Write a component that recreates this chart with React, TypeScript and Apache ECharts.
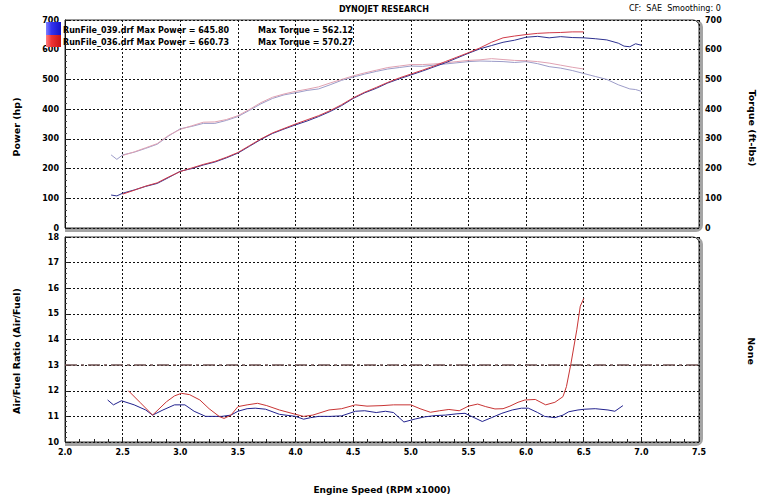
import React, { useEffect, useRef } from "react";
import * as echarts from "echarts";

// ---- data ----
const runFiles = ["RunFile_039.drf", "RunFile_036.drf"];
const maxPower = [645.8, 660.73];
const maxTorque = [562.12, 570.27];

const rpm039 = [2.4, 2.45, 2.5, 2.6, 2.7, 2.8, 2.9, 3.0, 3.1, 3.2, 3.3, 3.4, 3.5, 3.6, 3.7, 3.8, 3.9, 4.0, 4.1, 4.2, 4.3, 4.4, 4.5, 4.6, 4.7, 4.8, 4.9, 5.0, 5.1, 5.2, 5.3, 5.4, 5.5, 5.6, 5.7, 5.8, 5.9, 6.0, 6.1, 6.2, 6.3, 6.4, 6.5, 6.6, 6.7, 6.8, 6.85, 6.9, 6.95, 7.0];
const power039 = [111, 108, 117, 128, 140, 150, 170, 191, 200, 212, 222, 236, 252, 275, 298, 318, 333, 347, 360, 375, 392, 412, 436, 455, 470, 488, 502, 515, 528, 542, 556, 572, 588, 603, 614, 625, 632, 642, 645, 640, 644, 641, 640, 637, 633, 622, 612, 610, 620, 615];
const torque039 = [246, 231, 246, 255, 268, 282, 310, 334, 342, 352, 352, 362, 375, 396, 418, 436, 448, 455, 463, 468, 482, 497, 508, 518, 527, 535, 540, 545, 544, 548, 552, 556, 560, 562, 561, 560, 557, 560, 553, 543, 538, 530, 520, 510, 500, 482, 475, 468, 466, 460];

const rpm036 = [2.5, 2.6, 2.7, 2.8, 2.9, 3.0, 3.1, 3.2, 3.3, 3.4, 3.5, 3.6, 3.7, 3.8, 3.9, 4.0, 4.1, 4.2, 4.3, 4.4, 4.5, 4.6, 4.7, 4.8, 4.9, 5.0, 5.1, 5.2, 5.3, 5.4, 5.5, 5.6, 5.7, 5.8, 5.9, 6.0, 6.1, 6.2, 6.3, 6.4, 6.5];
const power036 = [114, 127, 141, 152, 172, 190, 202, 214, 224, 238, 254, 277, 300, 320, 335, 350, 364, 378, 395, 415, 438, 457, 473, 490, 505, 518, 531, 545, 560, 575, 590, 606, 625, 640, 646, 651, 655, 657, 658, 660, 660];
const torque036 = [244, 256, 270, 284, 312, 332, 344, 356, 357, 365, 378, 399, 422, 440, 451, 460, 467, 475, 488, 500, 512, 522, 531, 540, 545, 550, 550, 552, 556, 560, 564, 566, 570, 567, 564, 563, 560, 555, 548, 541, 535];

const afrRpm039 = [2.37, 2.42, 2.49, 2.6, 2.7, 2.76, 2.85, 2.95, 3.04, 3.12, 3.22, 3.36, 3.44, 3.5, 3.58, 3.65, 3.74, 3.86, 4.0, 4.07, 4.13, 4.2, 4.3, 4.4, 4.52, 4.6, 4.7, 4.78, 4.85, 4.94, 5.04, 5.12, 5.21, 5.3, 5.4, 5.47, 5.55, 5.62, 5.7, 5.79, 5.88, 5.96, 6.02, 6.1, 6.16, 6.25, 6.32, 6.37, 6.45, 6.51, 6.6, 6.71, 6.77, 6.84];
const afr039 = [11.64, 11.45, 11.61, 11.45, 11.25, 11.05, 11.25, 11.45, 11.45, 11.2, 11.0, 11.0, 11.05, 11.2, 11.3, 11.32, 11.28, 11.08, 11.0, 10.89, 10.95, 11.0, 11.0, 11.02, 11.2, 11.22, 11.15, 11.2, 11.15, 10.78, 10.9, 10.98, 11.03, 11.05, 11.1, 11.12, 10.95, 10.8, 10.95, 11.12, 11.25, 11.32, 11.32, 11.15, 11.0, 10.95, 11.05, 11.18, 11.25, 11.28, 11.3, 11.25, 11.2, 11.42];

const afrRpm036 = [2.55, 2.65, 2.76, 2.88, 2.95, 3.01, 3.08, 3.17, 3.25, 3.34, 3.38, 3.44, 3.5, 3.58, 3.67, 3.75, 3.86, 4.0, 4.07, 4.15, 4.29, 4.4, 4.52, 4.62, 4.75, 4.85, 5.0, 5.08, 5.17, 5.25, 5.33, 5.42, 5.5, 5.58, 5.65, 5.73, 5.8, 5.86, 5.93, 5.99, 6.08, 6.17, 6.25, 6.32, 6.35, 6.39, 6.44, 6.47, 6.5];
const afr036 = [12.0, 11.55, 11.05, 11.57, 11.8, 11.9, 11.85, 11.64, 11.3, 10.99, 10.92, 11.05, 11.38, 11.45, 11.51, 11.42, 11.25, 11.08, 11.0, 11.05, 11.25, 11.3, 11.45, 11.4, 11.42, 11.45, 11.45, 11.3, 11.16, 11.22, 11.27, 11.22, 11.4, 11.48, 11.38, 11.29, 11.3, 11.4, 11.55, 11.64, 11.66, 11.45, 11.55, 11.77, 12.16, 13.08, 14.38, 15.3, 15.6];

const afrTarget = 13;

// ---- styling ----
const FONT = '"DejaVu Sans", Verdana, sans-serif';
const dotted = { color: "#111", width: 1, type: [2, 2] as number[] };
const G0 = { left: 65, top: 20, width: 634, height: 208 };
const G1 = { left: 65, top: 237, width: 634, height: 205 };

const pairs = (xs: number[], ys: number[]) => xs.map((x, i) => [x, ys[i]]);

const lineSeries = (name: string, data: number[][], color: string, xi: number, yi: number, extra: any = {}) => ({
  name,
  type: "line",
  xAxisIndex: xi,
  yAxisIndex: yi,
  data,
  showSymbol: false,
  symbol: "none",
  smooth: false,
  lineStyle: { color, width: 1 },
  z: 3,
  ...extra,
});

const frame = (g: { left: number; top: number; width: number; height: number }) => [
  {
    type: "rect",
    z: -10,
    silent: true,
    shape: { x: g.left, y: g.top, width: g.width + 4, height: g.height + 4, r: [0, 7, 7, 0] },
    style: { fill: "#a4a4a4" },
  },
  {
    type: "rect",
    z: -9,
    silent: true,
    shape: { x: g.left, y: g.top, width: g.width, height: g.height, r: [0, 6, 0, 0] },
    style: { fill: "#ffffff", stroke: "#333", lineWidth: 1 },
  },
];

const txt = (text: string, x: number, y: number, font: string, align = "left", rotation = 0) => ({
  type: "text",
  x,
  y,
  rotation,
  z: 10,
  silent: true,
  style: {
    text,
    font,
    fill: "#000",
    align,
    verticalAlign: "middle",
    textAlign: align,
    textVerticalAlign: "middle",
  },
});

const axisLabelStyle = { fontFamily: FONT, fontWeight: "bold", fontSize: 8, color: "#000" };

const option: any = {
  animation: false,
  backgroundColor: "#ffffff",
  grid: [
    { ...G0, containLabel: false },
    { ...G1, containLabel: false },
  ],
  xAxis: [
    {
      gridIndex: 0,
      type: "value",
      min: 2,
      max: 7.5,
      interval: 0.5,
      axisLabel: { show: false },
      axisLine: { show: false },
      axisTick: { show: false },
      splitLine: { show: true, lineStyle: dotted },
    },
    {
      gridIndex: 1,
      type: "value",
      min: 2,
      max: 7.5,
      interval: 0.5,
      axisLabel: { ...axisLabelStyle, margin: 6, formatter: (v: number) => v.toFixed(1) },
      axisLine: { show: false },
      axisTick: { show: true, inside: true, length: 4, lineStyle: { color: "#222" } },
      minorTick: { show: true, splitNumber: 4, length: 3, lineStyle: { color: "#222" } },
      splitLine: { show: true, lineStyle: dotted },
      name: "Engine Speed (RPM x1000)",
      nameLocation: "middle",
      nameGap: 43,
      nameTextStyle: { fontFamily: FONT, fontWeight: "bold", fontSize: 9, color: "#000" },
    },
  ],
  yAxis: [
    {
      gridIndex: 0,
      type: "value",
      position: "left",
      min: 0,
      max: 700,
      interval: 100,
      axisLabel: { ...axisLabelStyle, margin: 6 },
      axisLine: { show: true, lineStyle: { color: "#111", width: 1 } },
      axisTick: { show: true, inside: true, length: 4, lineStyle: { color: "#222" } },
      minorTick: { show: true, splitNumber: 5, length: 2, lineStyle: { color: "#444" } },
      splitLine: { show: true, lineStyle: dotted },
    },
    {
      gridIndex: 0,
      type: "value",
      position: "right",
      min: 0,
      max: 700,
      interval: 100,
      axisLabel: { ...axisLabelStyle, margin: 6 },
      axisLine: { show: false },
      axisTick: { show: false },
      splitLine: { show: false },
    },
    {
      gridIndex: 1,
      type: "value",
      position: "left",
      min: 10,
      max: 18,
      interval: 1,
      axisLabel: { ...axisLabelStyle, margin: 6 },
      axisLine: { show: true, lineStyle: { color: "#111", width: 1 } },
      axisTick: { show: true, inside: true, length: 4, lineStyle: { color: "#222" } },
      minorTick: { show: true, splitNumber: 5, length: 2, lineStyle: { color: "#444" } },
      splitLine: { show: true, lineStyle: dotted },
    },
  ],
  series: [
    lineSeries("Torque 039", pairs(rpm039, torque039), "#9c9cc8", 0, 1),
    lineSeries("Torque 036", pairs(rpm036, torque036), "#e0a2b2", 0, 1),
    lineSeries("Power 039", pairs(rpm039, power039), "#2e3290", 0, 0),
    lineSeries("Power 036", pairs(rpm036, power036), "#d03a48", 0, 0),
    lineSeries("AFR 039", pairs(afrRpm039, afr039), "#22228e", 1, 2, {
      markLine: {
        silent: true,
        symbol: "none",
        label: { show: false },
        lineStyle: { color: "#6e5050", width: 1.5, type: [12, 4, 3, 4] },
        data: [{ yAxis: afrTarget }],
      },
    }),
    lineSeries("AFR 036", pairs(afrRpm036, afr036), "#c83434", 1, 2),
  ],
  graphic: {
    elements: [
      ...frame(G0),
      ...frame(G1),
      txt("DYNOJET RESEARCH", 384, 9, `bold 8px ${FONT}`, "center"),
      txt("CF:  SAE  Smoothing: 0", 629, 8, `8px ${FONT}`, "left"),
      {
        type: "rect",
        z: 10,
        silent: true,
        shape: { x: 46, y: 22, width: 15, height: 13 },
        style: {
          fill: new echarts.graphic.LinearGradient(0, 0, 1, 0, [
            { offset: 0, color: "#8080ff" },
            { offset: 0.35, color: "#3434f0" },
            { offset: 1, color: "#1414c8" },
          ]),
        },
      },
      {
        type: "rect",
        z: 10,
        silent: true,
        shape: { x: 46, y: 35, width: 15, height: 12 },
        style: {
          fill: new echarts.graphic.LinearGradient(0, 0, 1, 0, [
            { offset: 0, color: "#ff8080" },
            { offset: 0.35, color: "#f03434" },
            { offset: 1, color: "#c81414" },
          ]),
        },
      },
      txt(`${runFiles[0]} Max Power = ${maxPower[0].toFixed(2)}`, 63, 30, `bold 8px ${FONT}`),
      txt(`Max Torque = ${maxTorque[0].toFixed(2)}`, 258, 30, `bold 8px ${FONT}`),
      txt(`${runFiles[1]} Max Power = ${maxPower[1].toFixed(2)}`, 63, 42, `bold 8px ${FONT}`),
      txt(`Max Torque = ${maxTorque[1].toFixed(2)}`, 258, 42, `bold 8px ${FONT}`),
      txt("Power (hp)", 16, 127, `bold 9.5px ${FONT}`, "center", Math.PI / 2),
      txt("Torque (ft-lbs)", 752, 128, `bold 9.5px ${FONT}`, "center", -Math.PI / 2),
      txt("Air/Fuel Ratio (Air/Fuel)", 16, 351, `bold 9.5px ${FONT}`, "center", Math.PI / 2),
      txt("None", 751, 351, `bold 9.5px ${FONT}`, "center", -Math.PI / 2),
    ],
  },
};

export default function App() {
  const ref = useRef<HTMLDivElement>(null);
  useEffect(() => {
    if (!ref.current) return;
    const chart = echarts.init(ref.current, null, { renderer: "svg" });
    chart.setOption(option);
    return () => chart.dispose();
  }, []);
  return (
    <div
      ref={ref}
      style={{ position: "absolute", left: 0, top: 0, width: 768, height: 497, background: "#fff" }}
    />
  );
}
